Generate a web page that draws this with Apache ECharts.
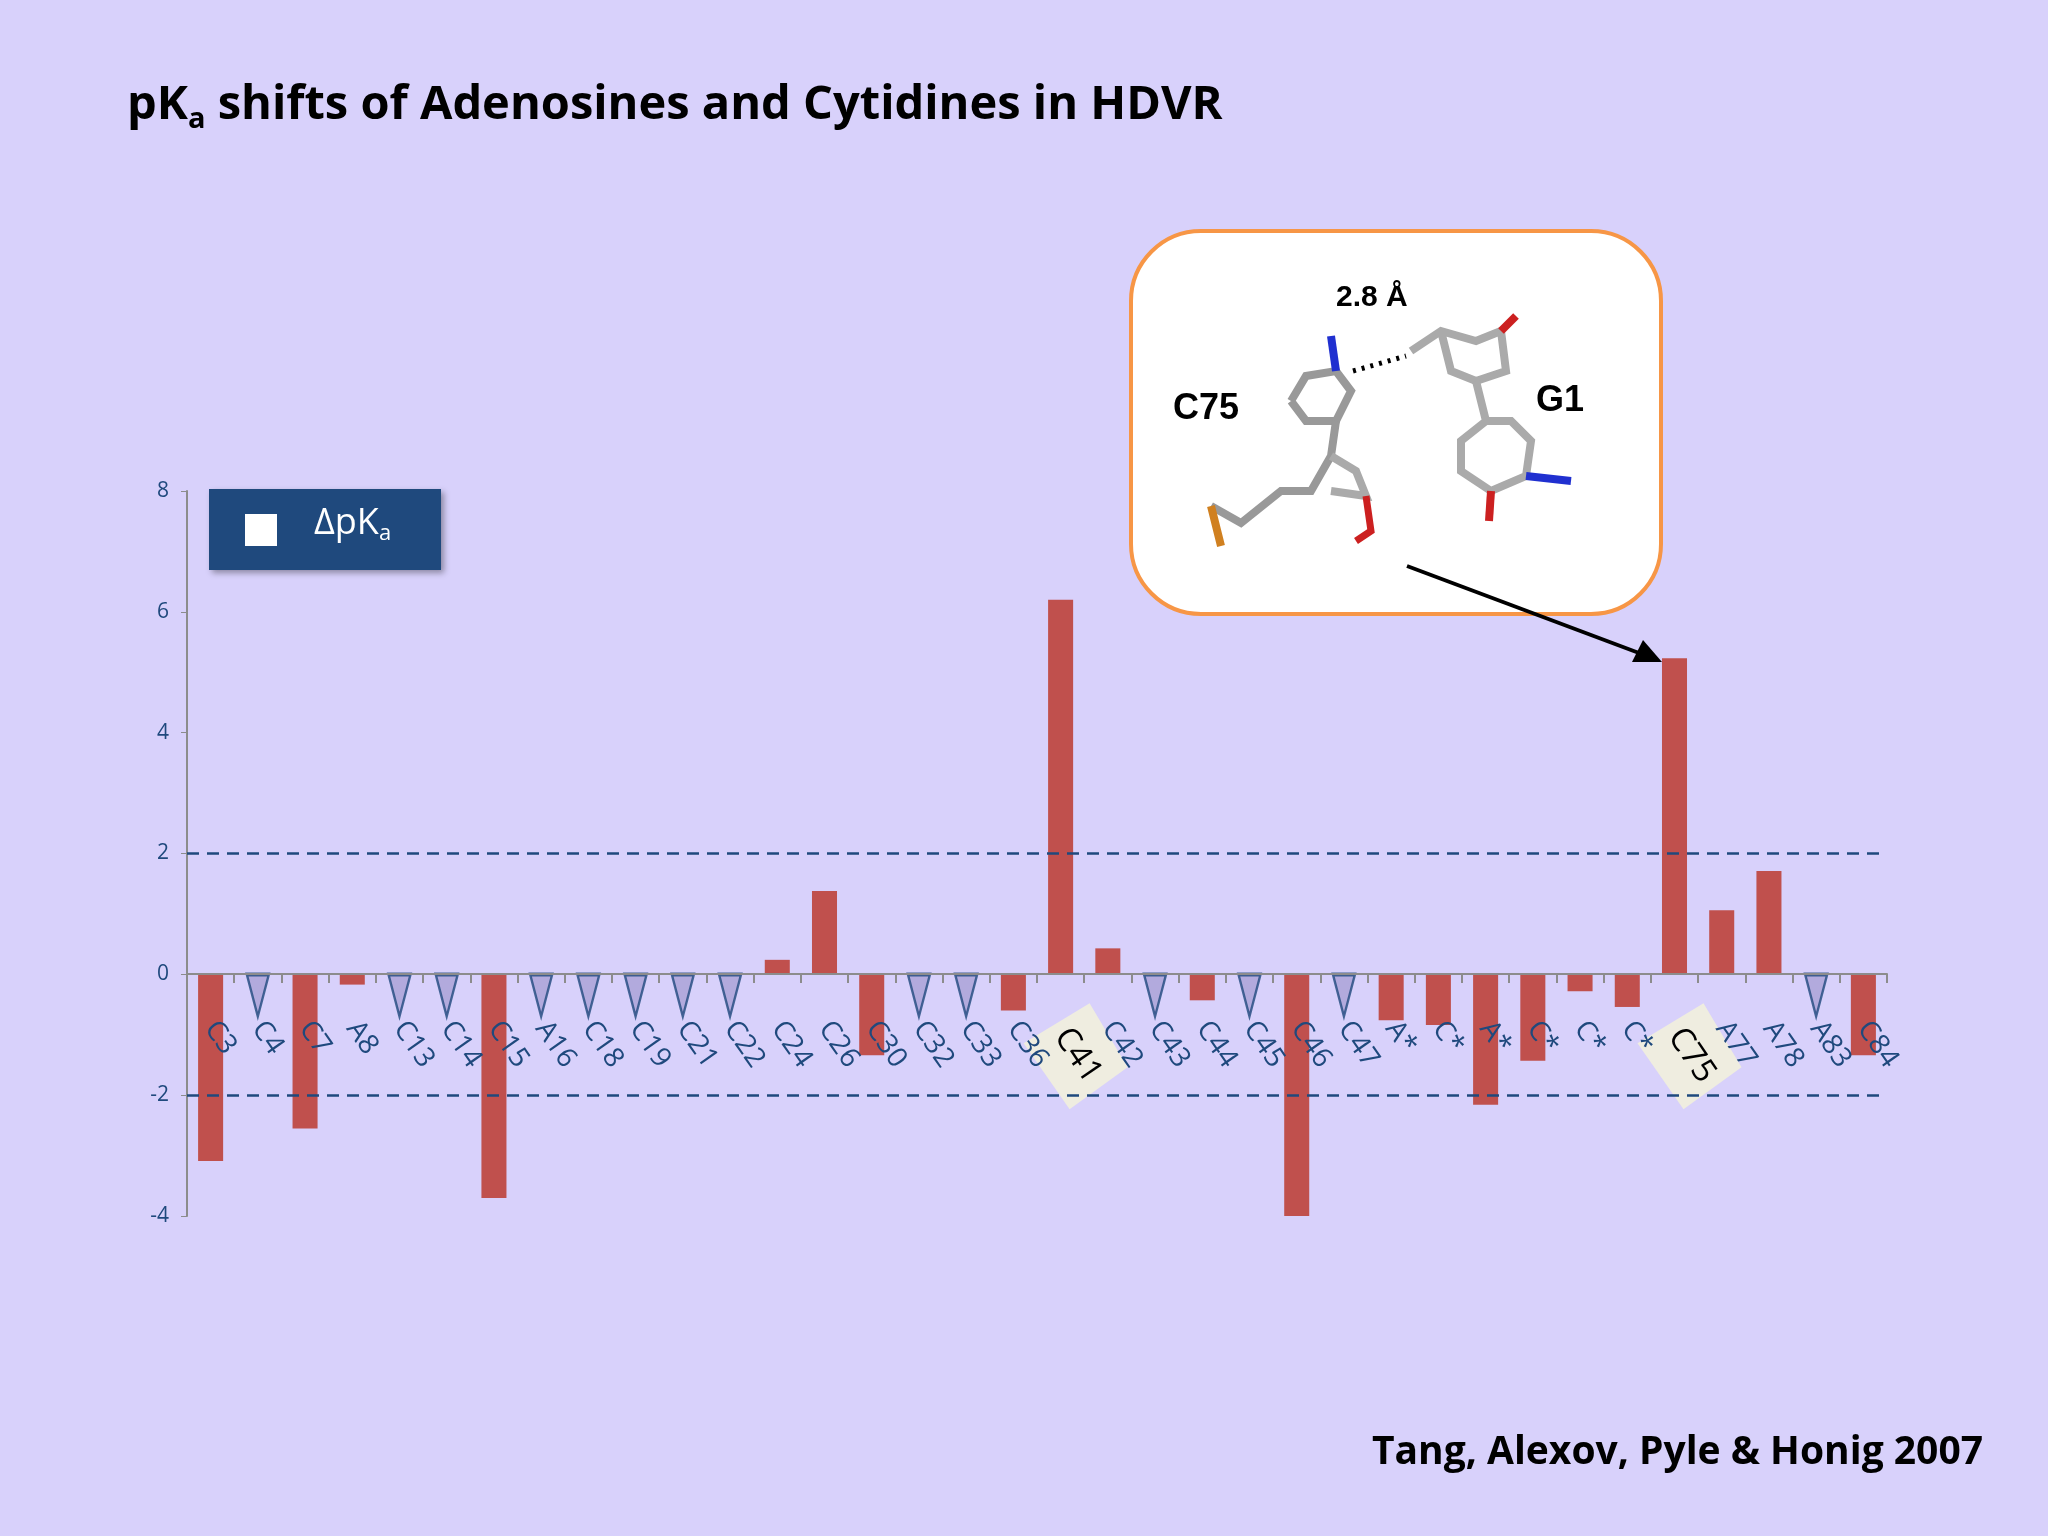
<!DOCTYPE html>
<html>
<head>
<meta charset="utf-8">
<script src="https://cdn.jsdelivr.net/npm/echarts@6/dist/echarts.min.js"></script>
<style>
  html, body { margin: 0; padding: 0; background: #d8d1fb; }
  #chart { width: 2048px; height: 1536px; }
</style>
</head>
<body>
<div id="chart"></div>
<script>
// nucleotides along the x axis
var residues = ["C3", "C4", "C7", "A8", "C13", "C14", "C15", "A16", "C18", "C19",
  "C21", "C22", "C24", "C26", "C30", "C32", "C33", "C36", "C41", "C42",
  "C43", "C44", "C45", "C46", "C47", "A*", "C*", "A*", "C*", "C*",
  "C*", "C75", "A77", "A78", "A83", "C84"];
// delta pKa, null where no shift was computed (triangle marker)
var dpka = [-3.09, null, -2.55, -0.17, null, null, -3.7, null, null, null,
  null, null, 0.24, 1.38, -1.34, null, null, -0.6, 6.2, 0.43,
  null, -0.43, null, -4.1, null, -0.76, -0.84, -2.16, -1.43, -0.28,
  -0.54, 5.23, 1.06, 1.71, null, -1.34];
var highlighted = [18, 31]; // residues shown in a diamond call-out
var yTicks = [-4, -2, 0, 2, 4, 6, 8];
var thresholds = [2, -2];

var blue = "#1f497d";
var triangles = [];
dpka.forEach(function (v, i) {
  if (v === null) triangles.push([i, -0.35]);
});

var chart = echarts.init(document.getElementById("chart"));

var option = {
  backgroundColor: "#d8d1fb",
  animation: false,
  grid: { left: 187, right: 161, top: 491, bottom: 320 },
  title: {
    text: "pK{sub|a} shifts of Adenosines and Cytidines in HDVR",
    left: 122, top: 72,
    textStyle: {
      fontFamily: "Open Sans", fontWeight: "bold", fontSize: 47, color: "#000",
      rich: { sub: { fontFamily: "Open Sans", fontWeight: "bold", fontSize: 29, color: "#000", verticalAlign: "bottom", padding: [28, 0, 0, 0] } }
    }
  },
  xAxis: {
    type: "category",
    data: residues,
    offset: -242,
    z: 10,
    axisLine: { onZero: false, lineStyle: { color: "#8c8c8c", width: 2 } },
    axisTick: { show: true, length: 9, lineStyle: { color: "#8c8c8c", width: 2 } },
    axisLabel: {
      interval: 0, rotate: -55, margin: 50, color: blue,
      fontFamily: "Open Sans", fontSize: 28,
      formatter: function (v, i) { return highlighted.indexOf(i) >= 0 ? "" : v; }
    }
  },
  yAxis: {
    type: "value", min: yTicks[0], max: yTicks[yTicks.length - 1], interval: 2,
    splitLine: { show: false },
    axisLine: { show: true, lineStyle: { color: "#8c8c8c", width: 2 } },
    axisTick: { show: true, length: 6, lineStyle: { color: "#8c8c8c" } },
    axisLabel: { color: blue, fontFamily: "Open Sans", fontSize: 21, margin: 18 }
  },
  series: [
    {
      type: "bar", data: dpka, barWidth: "53%",
      itemStyle: { color: "#c0504d" },
      markLine: {
        silent: true, symbol: "none", label: { show: false },
        lineStyle: { color: blue, type: [12, 8], width: 2.5 },
        data: thresholds.map(function (t) { return { yAxis: t }; })
      }
    },
    {
      type: "scatter", data: triangles, symbol: "triangle",
      symbolSize: [22, 42], symbolRotate: 180,
      itemStyle: { color: "#a9a0d6", borderColor: blue, borderWidth: 3 }
    }
  ]
};
chart.setOption(option);

// diamond call-outs over C41 and C75
function diamond(idx) {
  var p = chart.convertToPixel({ xAxisIndex: 0, yAxisIndex: 0 }, [idx, 0]);
  var cx = p[0] + 17, cy = p[1] + 81;
  return {
    type: "group", x: cx, y: cy, z: 50,
    children: [
      { type: "polygon", shape: { points: [[12, -52], [50, 12], [-8, 54], [-54, -12]] },
        style: { fill: "#efede0" } },
      { type: "text", rotation: -Math.PI * 0.31,
        style: { text: residues[idx], x: 0, y: 0, align: "center", verticalAlign: "middle",
          font: "33px 'Open Sans'", fill: "#000" } }
    ]
  };
}

var inset = {
  type: "group", x: 1131, y: 231, z: 40,
  children: [
    { type: "rect", shape: { x: 0, y: 0, width: 530, height: 383, r: 70 },
      style: { fill: "#fff", stroke: "#f79646", lineWidth: 4 } },
    { type: "text", style: { text: "2.8 Å", x: 205, y: 52, font: "bold 30px 'Liberation Sans'", fill: "#000" } },
    { type: "text", style: { text: "C75", x: 42, y: 160, font: "bold 36px 'Liberation Sans'", fill: "#000" } },
    { type: "text", style: { text: "G1", x: 405, y: 152, font: "bold 36px 'Liberation Sans'", fill: "#000" } },
    { type: "polyline", shape: { points: [[222, 140], [275, 125]] },
      style: { stroke: "#000", lineWidth: 5, lineDash: [3, 6] } },
    // C75 sticks
    { type: "polyline", shape: { points: [[160, 170], [175, 145], [205, 140], [220, 160], [205, 190], [175, 190], [160, 170]] },
      style: { stroke: "#999", lineWidth: 8, fill: null } },
    { type: "polyline", shape: { points: [[205, 140], [200, 105]] }, style: { stroke: "#2030d0", lineWidth: 8 } },
    { type: "polyline", shape: { points: [[205, 190], [200, 225], [180, 260], [150, 260], [110, 292], [80, 275]] },
      style: { stroke: "#999", lineWidth: 8, fill: null } },
    { type: "polyline", shape: { points: [[200, 225], [225, 240], [235, 265], [200, 260]] }, style: { stroke: "#aaa", lineWidth: 8, fill: null } },
    { type: "polyline", shape: { points: [[235, 265], [240, 300], [225, 310]] }, style: { stroke: "#cc2020", lineWidth: 7, fill: null } },
    { type: "polyline", shape: { points: [[80, 275], [90, 315]] }, style: { stroke: "#d08020", lineWidth: 8 } },
    // G1 sticks
    { type: "polyline", shape: { points: [[280, 120], [310, 100], [345, 110], [370, 100], [375, 140], [345, 150], [320, 140], [310, 100]] },
      style: { stroke: "#aaa", lineWidth: 8, fill: null } },
    { type: "polyline", shape: { points: [[345, 150], [355, 190], [330, 210], [330, 240], [360, 260], [395, 245], [400, 210], [380, 190], [355, 190]] },
      style: { stroke: "#aaa", lineWidth: 8, fill: null } },
    { type: "polyline", shape: { points: [[395, 245], [440, 250]] }, style: { stroke: "#2030d0", lineWidth: 8 } },
    { type: "polyline", shape: { points: [[360, 260], [358, 290]] }, style: { stroke: "#cc2020", lineWidth: 8 } },
    { type: "polyline", shape: { points: [[370, 100], [385, 85]] }, style: { stroke: "#cc2020", lineWidth: 8 } }
  ]
};

chart.setOption({
  graphic: [
    // legend box
    { type: "rect", shape: { x: 209, y: 489, width: 232, height: 81 }, z: 30,
      style: { fill: "#1f497d", shadowBlur: 6, shadowColor: "rgba(0,0,0,0.35)", shadowOffsetX: 3, shadowOffsetY: 3 } },
    { type: "rect", shape: { x: 245, y: 514, width: 32, height: 32 }, z: 31, style: { fill: "#fff" } },
    { type: "text", x: 314, y: 503, z: 31,
      style: { text: "ΔpK{s|a}", font: "36px 'Open Sans'", fill: "#fff",
        rich: { s: { fontSize: 22, fontFamily: "Open Sans", fill: "#fff", padding: [20, 0, 0, 0] } } } },
    inset,
    { type: "polyline", z: 45, shape: { points: [[1407, 566], [1655, 659]] }, style: { stroke: "#000", lineWidth: 4 } },
    { type: "polygon", z: 45, shape: { points: [[1662, 662], [1632, 662], [1643, 640]] }, style: { fill: "#000" } },
    diamond(highlighted[0]),
    diamond(highlighted[1]),
    { type: "text", right: 65, top: 1433,
      style: { text: "Tang, Alexov, Pyle & Honig 2007", font: "bold 39px 'Open Sans'", fill: "#000" } }
  ]
});
</script>
</body>
</html>
